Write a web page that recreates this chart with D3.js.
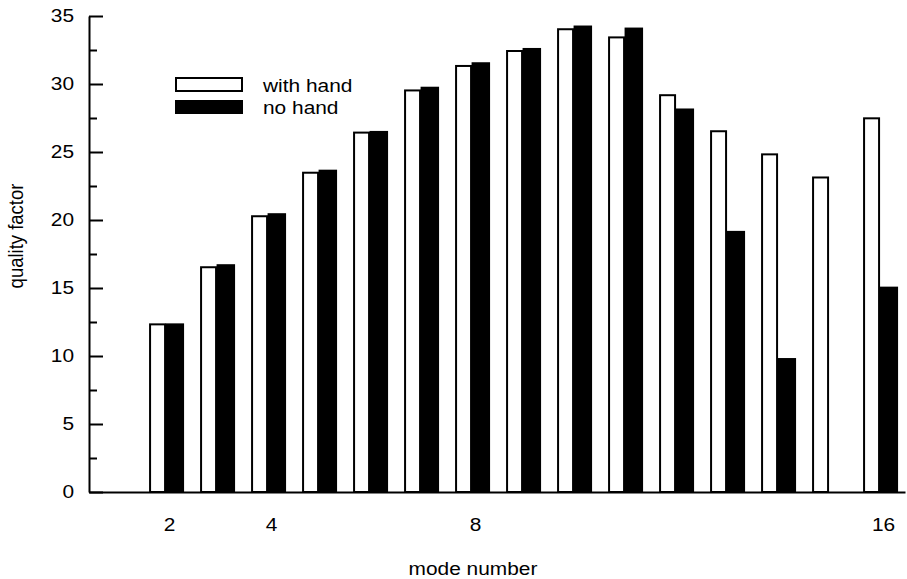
<!DOCTYPE html>
<html>
<head>
<meta charset="utf-8">
<script src="https://cdn.jsdelivr.net/npm/d3@7"></script>
<style>
  html, body { margin: 0; padding: 0; background: #fff; }
  svg { display: block; }
  text { font-family: "Liberation Sans", Arial, sans-serif; font-size: 18.5px; fill: #000; }
</style>
</head>
<body>
<div id="chart"></div>
<script>
// mode number on the x axis
var modes = [2, 3, 4, 5, 6, 7, 8, 9, 10, 11, 12, 13, 14, 15, 16];
// quality factor, with hand / no hand (null = no bar)
var withHand = [12.4, 16.6, 20.35, 23.55, 26.5, 29.6, 31.4, 32.5, 34.1, 33.5, 29.25, 26.6, 24.9, 23.2, 27.55];
var noHand = [12.4, 16.75, 20.5, 23.7, 26.55, 29.8, 31.6, 32.65, 34.3, 34.15, 28.2, 19.2, 9.85, null, 15.1];
var xTicks = [2, 4, 8, 16];
var yMajor = [0, 5, 10, 15, 20, 25, 30, 35];
var yMinor = [2.5, 7.5, 12.5, 17.5, 22.5, 27.5, 32.5];
var seriesNames = ["with hand", "no hand"];

var width = 907, height = 579;
var sx = 1.13; // text is a bit wider than tall in the original

var svg = d3.select("#chart")
  .append("svg")
  .attr("width", width)
  .attr("height", height);

var x = d3.scaleLinear().domain([0.43, 16.43]).range([89, 905]);
var y = d3.scaleLinear().domain([0, 35]).range([492, 16]);

// bars
var rows = modes.map(function (m, i) {
  return { mode: m, a: withHand[i], b: noHand[i] };
});

svg.append("g").selectAll("rect")
  .data(rows.filter(function (d) { return d.b != null; }))
  .enter()
  .append("rect")
  .attr("x", function (d) { return x(d.mode) - 3.5; })
  .attr("width", 18.5)
  .attr("y", function (d) { return y(d.b); })
  .attr("height", function (d) { return y(0) - y(d.b); })
  .attr("fill", "#000");

svg.append("g").selectAll("rect")
  .data(rows)
  .enter()
  .append("rect")
  .attr("x", function (d) { return x(d.mode) - 19; })
  .attr("width", 15)
  .attr("y", function (d) { return y(d.a) + 1; })
  .attr("height", function (d) { return y(0) - y(d.a) - 1; })
  .attr("fill", "#fff")
  .attr("stroke", "#000")
  .attr("stroke-width", 2);

// y axis, ticks pointing inward
var yAxis = svg.append("g")
  .attr("transform", "translate(89,0)")
  .call(d3.axisLeft(y).tickValues(yMajor).tickSize(-14).tickSizeOuter(0).tickPadding(15));

yAxis.append("g")
  .call(d3.axisLeft(y).tickValues(yMinor).tickSize(-8).tickSizeOuter(0).tickFormat(""))
  .select(".domain").remove();

yAxis.selectAll("text")
  .attr("x", -15 / sx)
  .attr("transform", "scale(" + sx + ",1)")
  .style("font-size", null);

// x axis, labels only
var xAxis = svg.append("g")
  .attr("transform", "translate(0,492)")
  .call(d3.axisBottom(x).tickValues(xTicks).tickSize(0).tickSizeOuter(0).tickPadding(26));

xAxis.selectAll(".tick text")
  .attr("transform", function () {
    return "scale(" + sx + ",1)";
  });

svg.selectAll(".domain, .tick line")
  .attr("stroke", "#000")
  .attr("stroke-width", 2);
svg.selectAll(".tick text")
  .attr("font-family", null)
  .attr("font-size", null);

// axis titles
svg.append("text")
  .attr("transform", "translate(473,575) scale(" + sx + ",1)")
  .attr("text-anchor", "middle")
  .text("mode number");

svg.append("text")
  .attr("transform", "translate(23,236) scale(" + sx + ",1) rotate(-90)")
  .attr("text-anchor", "middle")
  .text("quality factor");

// legend
var legend = svg.append("g");
legend.append("rect")
  .attr("x", 176).attr("y", 78).attr("width", 66).attr("height", 13)
  .attr("fill", "#fff").attr("stroke", "#000").attr("stroke-width", 2);
legend.append("rect")
  .attr("x", 175).attr("y", 100).attr("width", 68).attr("height", 14)
  .attr("fill", "#000");

legend.selectAll("text.lg")
  .data(seriesNames)
  .enter()
  .append("text")
  .attr("class", "lg")
  .attr("transform", function (d, i) { return "translate(263," + (92 + i * 22) + ") scale(" + sx + ",1)"; })
  .text(function (d) { return d; });
</script>
</body>
</html>
